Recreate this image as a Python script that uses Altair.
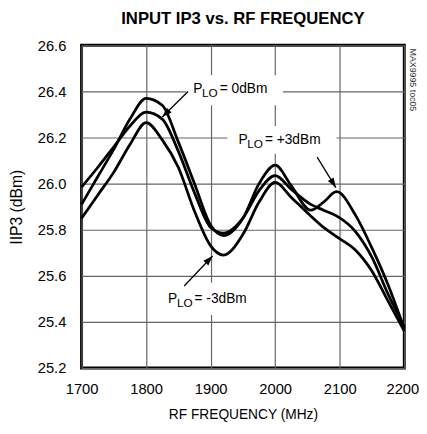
import math
import altair as alt
import pandas as pd

# ---------------- data ----------------
freq = [1700, 1725, 1750, 1775, 1800, 1825, 1850, 1875, 1900, 1920, 1950,
        1975, 2000, 2025, 2055, 2075, 2095, 2125, 2150, 2175, 2200]
iip3_p3 = [25.91, 26.03, 26.15, 26.28, 26.37, 26.34, 26.18, 26.00, 25.82, 25.775,
           25.85, 26.00, 26.08, 25.99, 25.885, 25.92, 25.965, 25.86, 25.72, 25.56, 25.37]
iip3_0 = [25.985, 26.07, 26.16, 26.25, 26.31, 26.28, 26.14, 25.96, 25.81, 25.785,
          25.85, 25.97, 26.035, 25.975, 25.91, 25.885, 25.86, 25.79, 25.68, 25.52, 25.38]
iip3_m3 = [25.85, 25.95, 26.05, 26.17, 26.265, 26.19, 26.07, 25.88, 25.73, 25.69,
           25.78, 25.92, 26.005, 25.94, 25.86, 25.81, 25.77, 25.71, 25.62, 25.49, 25.36]
series_names = ["+3dBm", "0dBm", "-3dBm"]

x_ticks = [1700, 1800, 1900, 2000, 2100, 2200]
y_ticks = [25.2, 25.4, 25.6, 25.8, 26.0, 26.2, 26.4, 26.6]

# annotations (data units)
lab_rest = [" = 0dBm", " = +3dBm", " = -3dBm"]
lab_f = [1873, 1943, 1834]
lab_v = [26.41, 26.19, 25.50]
box_f1 = [1862, 1926, 1825]
box_f2 = [2012, 2095, 1966]
box_v1 = [26.34, 26.13, 25.43]
box_v2 = [26.47, 26.25, 25.57]
arr_f1 = [1865, 2065, 1859]
arr_v1 = [26.40, 26.115, 25.556]
arr_f2 = [1825, 2094, 1903]
arr_v2 = [26.289, 25.983, 25.686]

note_text = ["MAX9995 toc05"]
note_f = [2214]
note_v = [26.45]

# ---------------- build ----------------
W, H = 329, 329
XD = [1700, 2200]
YD = [25.2, 26.6]
FONT = "Liberation Sans, Arial, Helvetica, sans-serif"

rows = []
for name, vals in zip(series_names, [iip3_p3, iip3_0, iip3_m3]):
    for f, v in zip(freq, vals):
        rows.append({"series": name, "f": f, "v": v})
df = pd.DataFrame(rows)

kx = W / (XD[1] - XD[0])
ky = H / (YD[1] - YD[0])
angles = []
for a, b, c, d in zip(arr_f1, arr_v1, arr_f2, arr_v2):
    dx = (c - a) * kx
    dy = -(d - b) * ky
    angles.append(math.degrees(math.atan2(dx, -dy)) % 360)

ann = pd.DataFrame({
    "lf": lab_f, "lv": lab_v, "rest": lab_rest,
    "bf1": box_f1, "bf2": box_f2, "bv1": box_v1, "bv2": box_v2,
    "af1": arr_f1, "av1": arr_v1, "af2": arr_f2, "av2": arr_v2,
    "ang": angles,
})
notes = pd.DataFrame({"f": note_f, "v": note_v, "t": note_text})

xs = alt.Scale(domain=XD, nice=False, zero=False)
ys = alt.Scale(domain=YD, nice=False, zero=False)

x_axis = alt.Axis(values=x_ticks, format="d", title="RF FREQUENCY (MHz)",
                  ticks=False, domain=False, labelPadding=14, titlePadding=11,
                  labelFlush=False, labelOverlap=False,
                  labelOffset=alt.condition("datum.value == 2200", alt.value(-2), alt.value(0)),
                  labelFontSize=15, titleFontSize=14,
                  gridColor="#666666", gridWidth=1.2)
y_axis = alt.Axis(values=y_ticks, format=".1f", title="IIP3 (dBm)",
                  ticks=False, domain=False, labelPadding=16, titlePadding=13,
                  labelFlush=False, labelOverlap=False,
                  labelFontSize=15, titleFontSize=16,
                  gridColor="#666666", gridWidth=1.2)

base = alt.Chart(df)
lines = base.mark_line(color="black", strokeWidth=2.8, interpolate="monotone").encode(
    x=alt.X("f:Q", scale=xs, axis=x_axis),
    y=alt.Y("v:Q", scale=ys, axis=y_axis),
    detail="series:N",
)

a = alt.Chart(ann)
boxes = a.mark_rect(color="white").encode(
    x=alt.X("bf1:Q", scale=xs), x2="bf2:Q",
    y=alt.Y("bv1:Q", scale=ys), y2="bv2:Q",
)
rules = a.mark_rule(color="black", strokeWidth=1.3).encode(
    x=alt.X("af1:Q", scale=xs), x2="af2:Q",
    y=alt.Y("av1:Q", scale=ys), y2="av2:Q",
)
heads = a.mark_point(shape="M0,0L-0.7,2L0.7,2Z", filled=True, color="black",
                     size=100, opacity=1).encode(
    x=alt.X("af2:Q", scale=xs), y=alt.Y("av2:Q", scale=ys),
    angle=alt.Angle("ang:Q", scale=None),
)
tp = a.mark_text(text="P", font=FONT, fontSize=14, align="left", baseline="middle",
                 color="black").encode(
    x=alt.X("lf:Q", scale=xs), y=alt.Y("lv:Q", scale=ys))
tlo = a.mark_text(text="LO", font=FONT, fontSize=12, align="left", baseline="middle",
                  dx=9, dy=4, color="black").encode(
    x=alt.X("lf:Q", scale=xs), y=alt.Y("lv:Q", scale=ys))
trest = a.mark_text(font=FONT, fontSize=14, align="left", baseline="middle",
                    dx=27, color="black").encode(
    x=alt.X("lf:Q", scale=xs), y=alt.Y("lv:Q", scale=ys), text="rest:N")

note = alt.Chart(notes).mark_text(font=FONT, fontSize=9, angle=90, align="center",
                                  baseline="middle", color="#333333").encode(
    x=alt.X("f:Q", scale=xs), y=alt.Y("v:Q", scale=ys), text="t:N")

chart = alt.layer(boxes, lines, rules, heads, tp, tlo, trest, note).properties(
    width=W, height=H,
    title=alt.TitleParams("INPUT IP3 vs. RF FREQUENCY", font=FONT, fontSize=17,
                          fontWeight="bold", anchor="middle", color="black", offset=11),
    padding={"left": 75, "top": 34, "right": 15, "bottom": 54},
    autosize=alt.AutoSizeParams(type="none"),
).configure_view(
    stroke="black", strokeWidth=3,
).configure_axis(
    labelFont=FONT, labelColor="black",
    titleFont=FONT, titleFontWeight="normal", titleColor="black",
)

chart.save("out.html", embed_options={"renderer": "svg", "actions": False})
